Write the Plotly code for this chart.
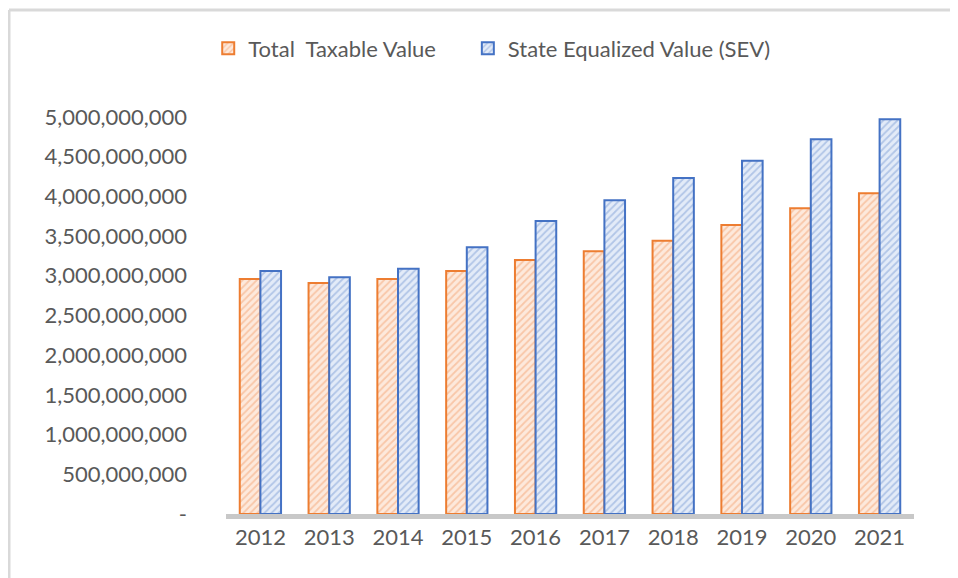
import plotly.graph_objects as go

years = ["2012", "2013", "2014", "2015", "2016", "2017", "2018", "2019", "2020", "2021"]
taxable = [2.96e9, 2.91e9, 2.96e9, 3.06e9, 3.20e9, 3.31e9, 3.44e9, 3.64e9, 3.85e9, 4.04e9]
sev = [3.06e9, 2.98e9, 3.09e9, 3.36e9, 3.69e9, 3.95e9, 4.23e9, 4.45e9, 4.72e9, 4.97e9]
tick_vals = [0, 5e8, 1e9, 1.5e9, 2e9, 2.5e9, 3e9, 3.5e9, 4e9, 4.5e9, 5e9]
tick_text = ["-", "500,000,000", "1,000,000,000", "1,500,000,000", "2,000,000,000",
             "2,500,000,000", "3,000,000,000", "3,500,000,000", "4,000,000,000",
             "4,500,000,000", "5,000,000,000"]

FONT = "Lato, 'Open Sans', sans-serif"
TXT = "#595959"

fig = go.Figure()
fig.add_trace(go.Bar(
    x=years, y=taxable, name="Total  Taxable Value", legend="legend", showlegend=True,
    marker=dict(color="#fbe3d2", line=dict(color="#ED7D31", width=2),
                pattern=dict(shape="/", fgcolor="#f4a473", bgcolor="#fde9dc", size=5, solidity=0.35)),
))
fig.add_trace(go.Bar(
    x=years, y=sev, name="State Equalized Value (SEV)", legend="legend2", showlegend=True,
    marker=dict(color="#dbe5f5", line=dict(color="#4472C4", width=2),
                pattern=dict(shape="/", fgcolor="#7f9fd6", bgcolor="#e3ebf8", size=5, solidity=0.35)),
))

leg_common = dict(orientation="h", xref="container", yref="container",
                  y=0.93, yanchor="middle", xanchor="left", visible=True,
                  font=dict(family=FONT, size=22, color=TXT), itemwidth=30,
                  bgcolor="rgba(0,0,0,0)")

fig.update_layout(
    width=958, height=578, showlegend=True,
    margin=dict(l=218, r=52, t=105, b=72),
    paper_bgcolor="white", plot_bgcolor="white",
    barmode="group", bargap=0.40, bargroupgap=0.0,
    font=dict(family=FONT, size=22, color=TXT),
    legend=dict(x=0.209, **leg_common),
    legend2=dict(x=0.48, **leg_common),
    xaxis=dict(type="category", showline=True, linecolor="#c8c8c8", linewidth=5,
               showgrid=False, ticks="", layer="below traces",
               tickfont=dict(family=FONT, size=22, color=TXT)),
    yaxis=dict(range=[0, 5.05e9], tickvals=tick_vals, ticktext=tick_text,
               showgrid=False, zeroline=False, showline=False, ticks="",
               ticklabelstandoff=38,
               tickfont=dict(family=FONT, size=22, color=TXT)),
    shapes=[
        dict(type="line", xref="paper", yref="paper", x0=-0.3154, x1=-0.3154, y0=-0.2, y1=1.2569,
             line=dict(color="#d9d9d9", width=3)),
        dict(type="line", xref="paper", yref="paper", x0=-0.3154, x1=1.1, y0=1.2569, y1=1.2569,
             line=dict(color="#d9d9d9", width=3)),
    ],
)

fig.write_html("out.html")
